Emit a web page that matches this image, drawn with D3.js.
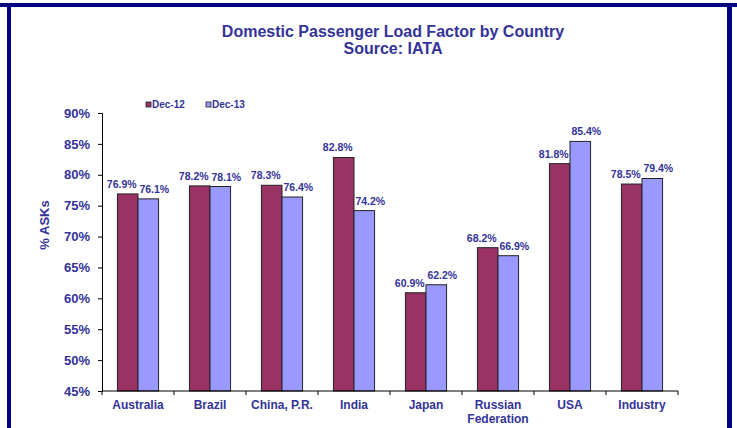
<!DOCTYPE html>
<html><head><meta charset="utf-8">
<script src="https://cdn.jsdelivr.net/npm/d3@7"></script>
<style>body{margin:0;background:#fff}svg{display:block;font-family:Arial,"Liberation Sans",sans-serif}</style>
</head><body><svg id="c" width="737" height="428"></svg>
<script>
const categories = [["Australia"],["Brazil"],["China, P.R."],["India"],["Japan"],["Russian","Federation"],["USA"],["Industry"]];
const seriesNames = ["Dec-12","Dec-13"];
const dec12 = [76.9,78.2,78.3,82.8,60.9,68.2,81.8,78.5];
const dec13 = [76.1,78.1,76.4,74.2,62.2,66.9,85.4,79.4];
const yTicks = [45,50,55,60,65,70,75,80,85,90];
const colors = ["#993366","#9999FF"];
const txt = "#333399";

const svg = d3.select("#c");
// frame
svg.append("rect").attr("x",0).attr("y",3).attr("width",737).attr("height",4).attr("fill","#000080");
svg.append("rect").attr("x",7).attr("y",3).attr("width",4).attr("height",425).attr("fill","#000080");
svg.append("rect").attr("x",727).attr("y",3).attr("width",5).attr("height",425).attr("fill","#000080");

// title
svg.append("text").attr("x",393).attr("y",37).attr("text-anchor","middle").attr("font-size",16).attr("font-weight","bold").attr("fill",txt).text("Domestic Passenger Load Factor by Country");
svg.append("text").attr("x",393).attr("y",54).attr("text-anchor","middle").attr("font-size",16).attr("font-weight","bold").attr("fill",txt).text("Source: IATA");

const L=102,R=678,T=113,B=391;
const x0 = d3.scaleBand().domain(d3.range(categories.length)).range([L,R]).paddingInner(0).paddingOuter(0);
const bw = x0.bandwidth()/3.5;
const y = d3.scaleLinear().domain([45,90]).range([B,T]);

// y axis
const ya = svg.append("g").attr("transform",`translate(${L},0)`)
  .call(d3.axisLeft(y).tickValues(yTicks).tickSize(4).tickPadding(8).tickFormat(d=>d+"%"));
ya.select(".domain").attr("stroke","#000").attr("stroke-width",1);
ya.selectAll(".tick line").attr("stroke","#000");
ya.selectAll("text").attr("font-size",13).attr("font-weight","bold").attr("fill",txt).attr("font-family","Arial,'Liberation Sans',sans-serif");

svg.append("text").attr("transform","translate(49,225) rotate(-90)").attr("text-anchor","middle").attr("font-size",13).attr("font-weight","bold").attr("fill",txt).text("% ASKs");

// bars
const series=[dec12,dec13];
series.forEach((vals,si)=>{
  svg.append("g").selectAll("rect").data(vals).join("rect")
    .attr("x",(d,i)=>x0(i)+x0.bandwidth()/2-bw+si*bw)
    .attr("y",d=>y(d)).attr("width",bw).attr("height",d=>B-y(d))
    .attr("fill",colors[si]).attr("stroke","#222").attr("stroke-width",1);
  svg.append("g").selectAll("text").data(vals).join("text")
    .attr("x",(d,i)=>x0(i)+x0.bandwidth()/2-bw/2+si*bw+(si?6:-6))
    .attr("y",d=>y(d)-6).attr("text-anchor","middle")
    .attr("font-size",10.5).attr("font-weight","bold").attr("fill",txt)
    .text(d=>d.toFixed(1)+"%");
});

// x axis
svg.append("line").attr("x1",L).attr("x2",R).attr("y1",B).attr("y2",B).attr("stroke","#000");
const bounds = d3.range(categories.length+1).map(i=>L+i*x0.bandwidth());
svg.append("g").selectAll("line").data(bounds).join("line")
  .attr("x1",d=>d).attr("x2",d=>d).attr("y1",B).attr("y2",B+4).attr("stroke","#000");
const xl = svg.append("g").selectAll("text").data(categories).join("text")
  .attr("x",(d,i)=>x0(i)+x0.bandwidth()/2).attr("y",409).attr("text-anchor","middle")
  .attr("font-size",12).attr("font-weight","bold").attr("fill",txt);
xl.selectAll("tspan").data(d=>d).join("tspan")
  .attr("x",function(){return this.parentNode.getAttribute("x");})
  .attr("dy",(d,i)=>i?13.5:0).text(d=>d);

// legend
const lg = svg.append("g");
[146,206].forEach((lx,i)=>{
  lg.append("rect").attr("x",lx).attr("y",102).attr("width",5).attr("height",5).attr("fill",colors[i]).attr("stroke","#222").attr("stroke-width",0.8);
  lg.append("text").attr("x",lx+6).attr("y",108).attr("font-size",10).attr("font-weight","bold").attr("fill",txt).text(seriesNames[i]);
});
</script></body></html>
